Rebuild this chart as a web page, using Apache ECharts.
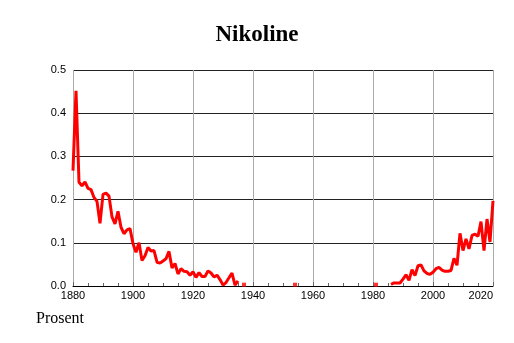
<!DOCTYPE html>
<html>
<head>
<meta charset="utf-8">
<style>
  html, body { margin: 0; padding: 0; background: #fff; }
  #chart { width: 514px; height: 343px; }
</style>
<script src="https://cdn.jsdelivr.net/npm/echarts@6.0.0/dist/echarts.min.js"></script>
</head>
<body>
<div id="chart"></div>
<script>
// share of people with the name, one value per year from 1880, null = no data
const firstYear = 1880;
const values = [
  0.267, 0.452, 0.240, 0.232, 0.241, 0.226, 0.223, 0.205, 0.196, 0.145, // 1880-1889
  0.212, 0.215, 0.208, 0.160, 0.144, 0.173, 0.136, 0.121, 0.130, 0.133, // 1890-1899
  0.098, 0.078, 0.100, 0.059, 0.070, 0.089, 0.081, 0.082, 0.055, 0.053, // 1900-1909
  0.058, 0.063, 0.080, 0.042, 0.052, 0.028, 0.040, 0.034, 0.033, 0.025, // 1910-1919
  0.033, 0.020, 0.031, 0.022, 0.022, 0.035, 0.030, 0.021, 0.025, 0.015, // 1920-1929
  0.002, 0.008, 0.019, 0.030, 0.002, 0.012, null, null, null, null,     // 1930-1939
  null, null, null, null, null, null, null, null, null, null,           // 1940-1949
  null, null, null, null, null, null, null, null, null, null,           // 1950-1959
  null, null, null, null, null, null, null, null, null, null,           // 1960-1969
  null, null, null, null, null, null, null, null, null, null,           // 1970-1979
  null, null, null, null, null, null, 0.004, 0.007, 0.007, 0.007,       // 1980-1989
  0.016, 0.026, 0.013, 0.038, 0.024, 0.047, 0.049, 0.035, 0.029, 0.027, // 1990-1999
  0.032, 0.040, 0.043, 0.037, 0.034, 0.034, 0.036, 0.064, 0.048, 0.122, // 2000-2009
  0.082, 0.109, 0.086, 0.117, 0.120, 0.115, 0.149, 0.082, 0.155, 0.102, // 2010-2019
  0.197                                                                  // 2020
];

// single years standing alone between gaps
const dotYears = [1937, 1954, 1981];
const dotValues = [0.003, 0.003, 0.003];

const lineData = values.map((v, i) => [firstYear + i, v === null ? '-' : v]);
const dotData = dotYears.map((y, i) => [y, dotValues[i]]);

const chart = echarts.init(document.getElementById('chart'));

const option = {
  animation: false,
  title: [
    {
      text: 'Nikoline',
      left: 'center',
      top: 19,
      textStyle: {
        fontFamily: 'Liberation Serif',
        fontWeight: 'bold',
        fontSize: 23,
        color: '#000'
      }
    },
    {
      text: 'Prosent',
      left: 31,
      top: 306,
      textStyle: {
        fontFamily: 'Liberation Serif',
        fontWeight: 'normal',
        fontSize: 16,
        color: '#000'
      }
    }
  ],
  grid: {
    left: 73,
    right: 21,
    top: 70,
    bottom: 57
  },
  xAxis: {
    type: 'value',
    min: 1880,
    max: 2020,
    interval: 20,
    axisLine: {
      lineStyle: { color: '#000', width: 1 }
    },
    axisTick: {
      show: true,
      inside: true,
      length: 4,
      lineStyle: { color: '#666' }
    },
    minorTick: {
      show: true,
      splitNumber: 4,
      length: 3,
      lineStyle: { color: '#666' }
    },
    splitLine: {
      show: true,
      lineStyle: { color: '#aaa', width: 1 }
    },
    axisLabel: {
      margin: 4,
      fontFamily: 'Liberation Sans',
      fontSize: 11,
      color: '#000',
      alignMaxLabel: 'right',
      formatter: v => String(v)
    }
  },
  yAxis: {
    type: 'value',
    min: 0,
    max: 0.5,
    interval: 0.1,
    axisLine: { show: false },
    axisTick: { show: false },
    splitLine: {
      show: true,
      lineStyle: { color: '#222', width: 1 }
    },
    axisLabel: {
      margin: 7,
      fontFamily: 'Liberation Sans',
      fontSize: 11,
      color: '#000',
      formatter: v => v.toFixed(1)
    }
  },
  series: [
    {
      type: 'line',
      data: lineData,
      showSymbol: false,
      symbol: 'none',
      connectNulls: false,
      lineStyle: { color: '#ff0000', width: 3 },
      itemStyle: { color: '#ff0000' }
    },
    {
      type: 'scatter',
      data: dotData,
      symbol: 'rect',
      symbolSize: 4,
      itemStyle: { color: '#ff0000' }
    }
  ]
};

chart.setOption(option);
</script>
</body>
</html>
